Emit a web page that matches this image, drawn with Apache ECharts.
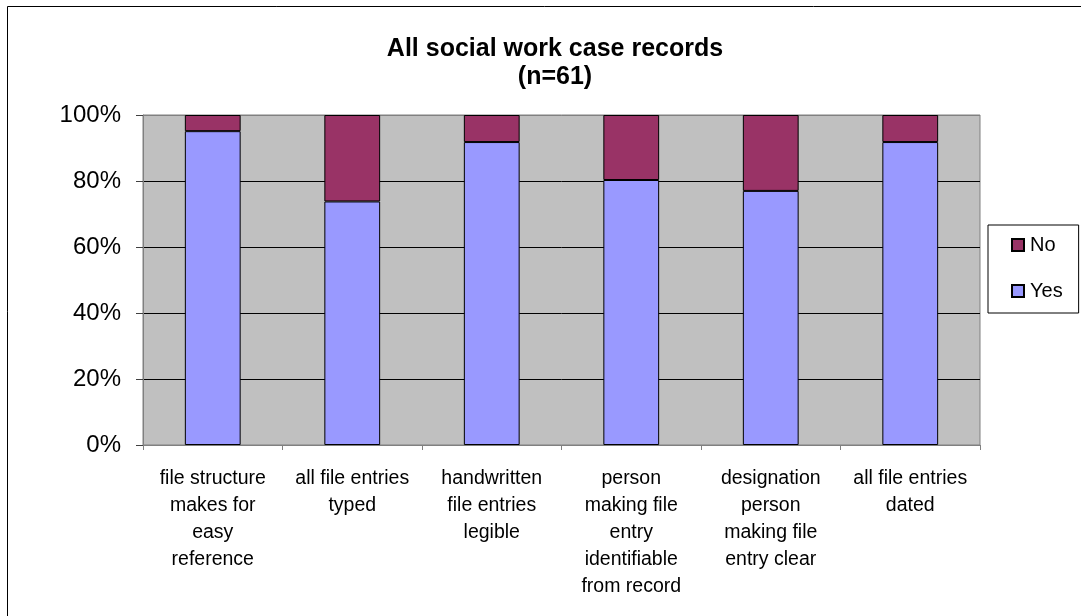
<!DOCTYPE html>
<html>
<head>
<meta charset="utf-8">
<script src="https://cdn.jsdelivr.net/npm/echarts@6/dist/echarts.min.js"></script>
<style>
  html, body { margin: 0; padding: 0; background: #fff; }
  #chart { width: 1081px; height: 616px; }
</style>
</head>
<body>
<div id="chart"></div>
<script>
// Case-record checks, each as a share of the 61 records reviewed
const categories = [
  'file structure\nmakes for\neasy\nreference',
  'all file entries\ntyped',
  'handwritten\nfile entries\nlegible',
  'person\nmaking file\nentry\nidentifiable\nfrom record',
  'designation\nperson\nmaking file\nentry clear',
  'all file entries\ndated'
];
const yesPct = [95.1, 73.8, 91.8, 80.3, 77.0, 91.8];
const noPct  = [4.9, 26.2, 8.2, 19.7, 23.0, 8.2];
const yTicks = [0, 20, 40, 60, 80, 100];

const FONT = '"Liberation Sans", Arial, sans-serif';

const chart = echarts.init(document.getElementById('chart'), null, { renderer: 'canvas' });

chart.setOption({
  backgroundColor: '#ffffff',
  animation: false,
  textStyle: { fontFamily: FONT },
  graphic: [{
    type: 'rect',
    shape: { x: 7.5, y: 6.5, width: 1100, height: 700 },
    style: { fill: 'none', stroke: '#000', lineWidth: 1 },
    silent: true,
    z: -1
  }],
  title: {
    text: 'All social work case records\n(n=61)',
    left: 550,
    top: 30,
    textAlign: 'center',
    textStyle: {
      fontFamily: FONT,
      fontWeight: 'bold',
      fontSize: 25,
      lineHeight: 28,
      color: '#000'
    }
  },
  legend: {
    orient: 'vertical',
    left: 988,
    top: 225,
    padding: [10, 16, 12, 23],
    itemWidth: 12,
    itemHeight: 12,
    itemGap: 26,
    icon: 'rect',
    backgroundColor: '#fff',
    borderColor: '#000',
    borderWidth: 1,
    data: ['No', 'Yes'],
    textStyle: { fontFamily: FONT, fontSize: 20, color: '#000', padding: [0, 0, 0, 1] }
  },
  grid: {
    left: 143,
    right: 101,
    top: 115,
    bottom: 171,
    show: true,
    backgroundColor: '#c0c0c0',
    borderColor: '#808080',
    borderWidth: 1
  },
  xAxis: {
    type: 'category',
    data: categories,
    axisLine: { lineStyle: { color: '#808080', width: 1 } },
    axisTick: { show: true, length: 5, lineStyle: { color: '#808080' } },
    axisLabel: {
      interval: 0,
      margin: 20,
      fontFamily: FONT,
      fontSize: 19.5,
      lineHeight: 27,
      color: '#000'
    },
    splitLine: { show: false }
  },
  yAxis: {
    type: 'value',
    min: 0,
    max: 100,
    interval: 20,
    axisLine: { show: true, lineStyle: { color: '#808080', width: 1 } },
    axisTick: { show: true, length: 7, lineStyle: { color: '#404040' } },
    axisLabel: {
      margin: 22,
      fontFamily: FONT,
      fontSize: 24,
      color: '#000',
      formatter: v => yTicks.includes(v) ? v + '%' : ''
    },
    splitLine: {
      show: true,
      lineStyle: { color: ['#808080', '#000', '#000', '#000', '#000', '#808080'], width: 1 }
    }
  },
  series: [
    {
      name: 'Yes',
      type: 'bar',
      stack: 'total',
      barWidth: '40%',
      data: yesPct,
      itemStyle: { color: '#9999ff', borderColor: '#000', borderWidth: 1 }
    },
    {
      name: 'No',
      type: 'bar',
      stack: 'total',
      barWidth: '40%',
      data: noPct,
      itemStyle: { color: '#993366', borderColor: '#000', borderWidth: 1 }
    }
  ]
});
</script>
</body>
</html>
